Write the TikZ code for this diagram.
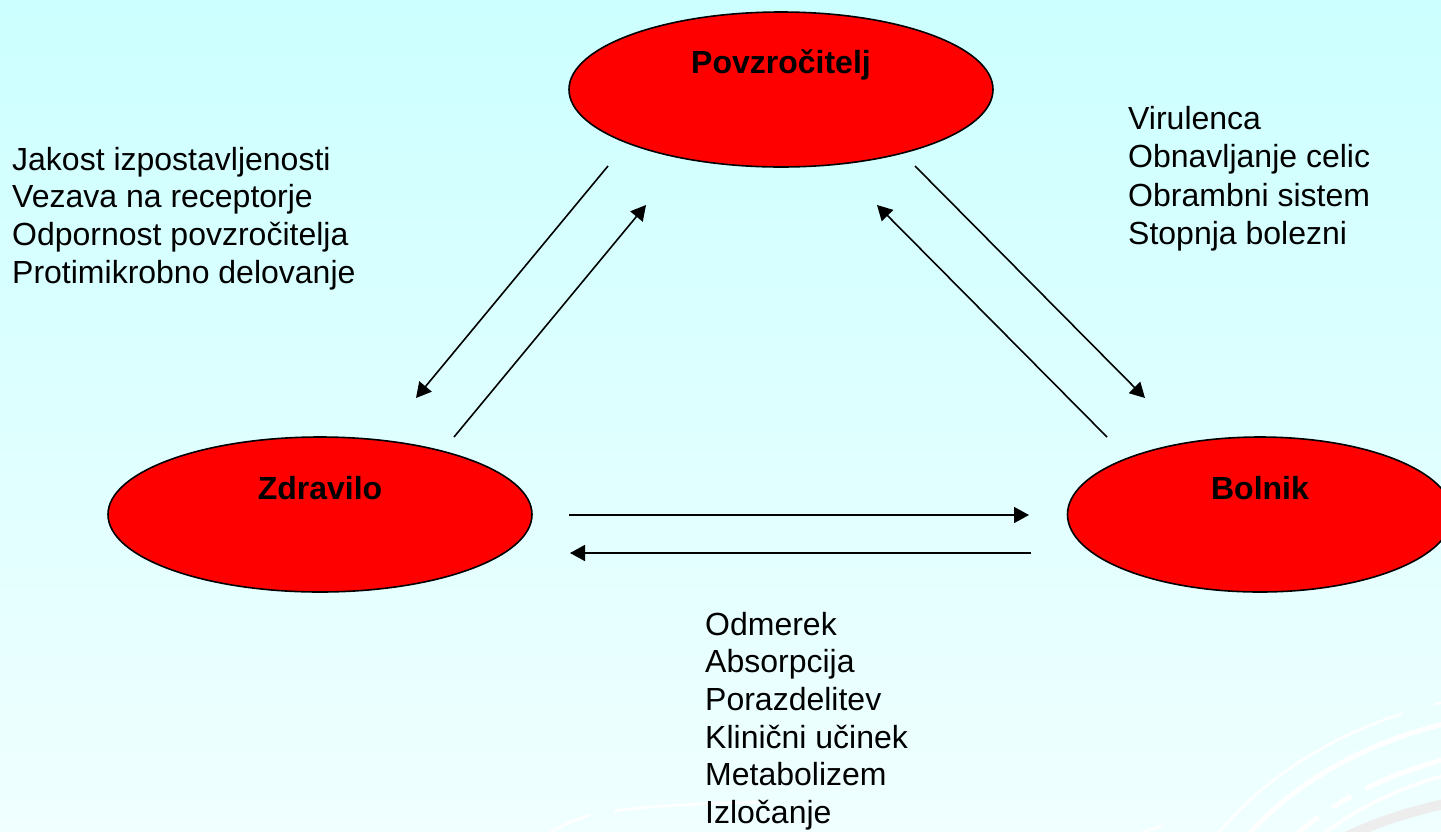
\documentclass[tikz,border=0pt]{standalone}
\usepackage{fontspec}
\setmainfont{Liberation Sans}
\usetikzlibrary{arrows.meta,shapes.geometric}
\definecolor{bgtop}{HTML}{CCFFFF}
\definecolor{bgmid}{HTML}{D2FFFF}
\definecolor{bgbot}{HTML}{F0FFFF}
\definecolor{swirlgray}{HTML}{EDEDED}
\begin{document}
\begin{tikzpicture}[x=1pt,y=-1pt,
  blob/.style={ellipse, draw=black, line width=1.6pt, fill=red, minimum height=155pt, inner sep=0pt},
  lbl/.style={font=\bfseries\fontsize{32}{38}\selectfont, anchor=base, inner sep=0pt},
  txt/.style={font=\fontsize{32}{38}\selectfont, anchor=base west, inner sep=0pt},
  conn/.style={line width=1.6pt, -{Triangle[length=15pt,width=16pt]}},
  swirl/.style={white, line cap=butt}]
\useasboundingbox (0,0) rectangle (1441,831);
\shade[top color=bgtop, middle color=bgmid, bottom color=bgbot] (0,0) rectangle (1441,831);
\begin{scope}
  \clip (0,0) rectangle (1441,831);
  \draw[swirl, line width=2.5pt] plot[domain=205:247, samples=40, variable=\t] ({1560+405*cos(\t)}, {1000+311*sin(\t)});
  \draw[swirl, line width=2.5pt] plot[domain=252:270, samples=20, variable=\t] ({1560+405*cos(\t)}, {1000+311*sin(\t)});
  \draw[swirl, line width=5pt] plot[domain=200:280, samples=60, variable=\t] ({1560+380*cos(\t)}, {1000+290*sin(\t)});
  \draw[swirl, line width=5pt] plot[domain=215:226, samples=10, variable=\t] ({1560+347*cos(\t)}, {1000+255*sin(\t)});
  \draw[swirl, line width=5pt] plot[domain=229:233, samples=6, variable=\t] ({1560+347*cos(\t)}, {1000+255*sin(\t)});
  \draw[swirl, line width=5pt] plot[domain=236:280, samples=40, variable=\t] ({1560+347*cos(\t)}, {1000+255*sin(\t)});
  \draw[swirl, line width=3.5pt] plot[domain=210:280, samples=50, variable=\t] ({1560+328*cos(\t)}, {1000+240*sin(\t)});
  \draw[swirlgray, line width=10pt] plot[domain=215:280, samples=50, variable=\t] ({1560+345*cos(\t)}, {1000+208*sin(\t)});
  \draw[swirl, line width=2.5pt] (549,833) .. controls (565,824) .. (589,815);
  \draw[swirl, line width=2.5pt] (614,811) .. controls (650,806) and (690,804) .. (760,802);
  \draw[swirl, line width=2.5pt] (1140,833) -- (1162,826);
\end{scope}

\node[blob, minimum width=424pt] (povz) at (781,89.5) {};
\node[blob, minimum width=424pt] (zdr) at (320,514.5) {};
\node[blob, minimum width=385pt] (boln) at (1260,514.5) {};
\node[lbl] (povzT) at (781,73) {Povzročitelj};
\node[lbl] (zdrT) at (320,499) {Zdravilo};
\node[lbl] (bolnT) at (1260,499) {Bolnik};

\coordinate (a1s) at (608,166);  \coordinate (a1e) at (416,398);
\coordinate (a2s) at (454,437);  \coordinate (a2e) at (646,205);
\coordinate (a3s) at (915,166);  \coordinate (a3e) at (1145,398);
\coordinate (a4s) at (1107,437); \coordinate (a4e) at (877,205);
\coordinate (a5s) at (569,515);  \coordinate (a5e) at (1029,515);
\coordinate (a6s) at (1031,553); \coordinate (a6e) at (570,553);
\draw[conn] (a1s) -- (a1e);
\draw[conn] (a2s) -- (a2e);
\draw[conn] (a3s) -- (a3e);
\draw[conn] (a4s) -- (a4e);
\draw[conn] (a5s) -- (a5e);
\draw[conn] (a6s) -- (a6e);

\foreach \s [count=\i] in {Jakost izpostavljenosti, Vezava na receptorje, Odpornost povzročitelja, Protimikrobno delovanje}
  \node[txt] (left\i) at (12,{170+37.7*(\i-1)}) {\s};
\foreach \s [count=\i] in {Virulenca, Obnavljanje celic, Obrambni sistem, Stopnja bolezni}
  \node[txt] (right\i) at (1128,{129+38.5*(\i-1)}) {\s};
\foreach \s [count=\i] in {Odmerek, Absorpcija, Porazdelitev, Klinični učinek, Metabolizem, Izločanje}
  \node[txt] (bot\i) at (705,{635+37.7*(\i-1)}) {\s};
\end{tikzpicture}
\end{document}
